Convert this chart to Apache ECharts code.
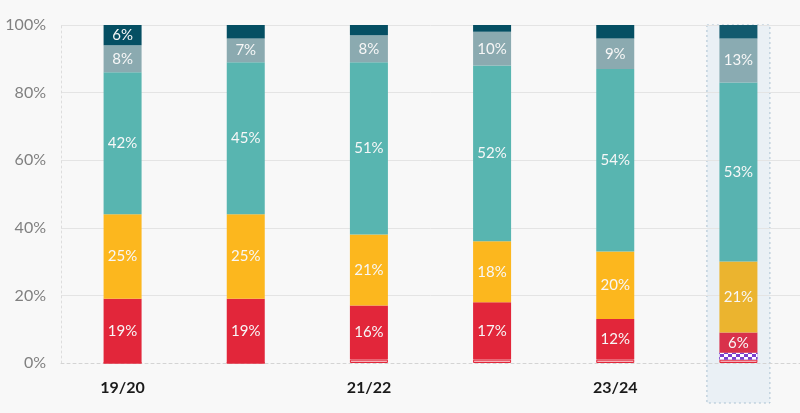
<!DOCTYPE html>
<html>
<head>
<meta charset="utf-8">
<script src="https://cdn.jsdelivr.net/npm/echarts@6/dist/echarts.min.js"></script>
<style>
html,body{margin:0;padding:0;background:#f8f8f8;}
#c{width:800px;height:413px;}
</style>
</head>
<body>
<div id="c"></div>
<script>
var categories = ['19/20', '20/21', '21/22', '22/23', '23/24', '24/25'];
var pinkVals   = [0, 0, 1, 1, 1, 1];
var purpleVals = [0, 0, 0, 0, 0, 2];
var redVals    = [19, 19, 16, 17, 12, 6];
var yellowVals = [25, 25, 21, 18, 20, 21];
var tealVals   = [42, 45, 51, 52, 54, 53];
var grayVals   = [8, 7, 8, 10, 9, 13];
var navyVals   = [6, 4, 3, 2, 4, 4];
var yTicks = ['0%', '20%', '40%', '60%', '80%', '100%'];

var colors = {
  pink: '#f6b0b8', red: '#e2263a', yellow: '#fcb71e', teal: '#58b5b0', gray: '#8baab0', navy: '#054f63'
};
var lastColors = {
  pink: '#f3aab4', red: '#d9314b', yellow: '#ebb42f', teal: '#58b3b0', gray: '#8aabb2', navy: '#125a6e'
};

function mk(name, vals, key, minLabel) {
  return {
    name: name,
    type: 'bar',
    stack: 'total',
    barWidth: 38,
    data: vals.map(function (v, i) {
      var item = { value: v };
      if (i === vals.length - 1) item.itemStyle = { color: lastColors[key] };
      return item;
    }),
    itemStyle: {
      color: colors[key],
      borderColor: key === 'pink' ? '#e2263a' : undefined,
      borderWidth: key === 'pink' ? 1 : 0
    },
    label: {
      show: minLabel !== null,
      position: 'inside',
      color: '#f7f7f7',
      fontFamily: 'Lato',
      fontSize: 15,
      formatter: function (p) {
        return (minLabel !== null && p.value >= minLabel) ? p.value + '%' : '';
      }
    },
    emphasis: { disabled: true }
  };
}

var chart = echarts.init(document.getElementById('c'), null, { renderer: 'canvas' });

var purpleSeries = mk('purple', purpleVals, 'pink', null);
purpleSeries.itemStyle = {
  color: '#7b3fcf',
  decal: {
    symbol: 'rect',
    symbolSize: 1,
    color: '#ffffff',
    dashArrayX: [[4, 4], [0, 4, 4, 0]],
    dashArrayY: [2.5, 0],
    rotation: 0,
    backgroundColor: '#7b3fcf'
  }
};
purpleSeries.data = purpleVals.map(function (v) { return { value: v }; });

chart.setOption({
  backgroundColor: '#f8f8f8',
  animation: false,
  grid: { left: 61, top: 25, bottom: 50, width: 749, containLabel: false },
  xAxis: {
    type: 'category',
    data: categories,
    axisLine: { show: true, lineStyle: { color: '#d4d4d4', type: [3, 3], width: 1 } },
    axisTick: { show: false },
    axisLabel: {
      interval: 1,
      color: '#1a1a1a',
      fontWeight: 'bold',
      fontFamily: 'Lato',
      fontSize: 16,
      margin: 17
    }
  },
  yAxis: {
    type: 'value',
    min: 0,
    max: 100,
    interval: 20,
    axisLine: { show: true, lineStyle: { color: '#dddddd', type: [2, 3] } },
    axisTick: { show: false },
    splitLine: {
      lineStyle: { color: '#e4e4e4', width: 1 },
      showMinLine: false
    },
    axisLabel: {
      color: '#808080',
      fontFamily: 'Lato',
      fontSize: 16,
      margin: 15,
      formatter: function (v) { return yTicks[v / 20]; }
    }
  },
  series: [
    mk('pink', pinkVals, 'pink', null),
    purpleSeries,
    mk('red', redVals, 'red', 5),
    mk('yellow', yellowVals, 'yellow', 5),
    mk('teal', tealVals, 'teal', 5),
    mk('gray', grayVals, 'gray', 5),
    mk('navy', navyVals, 'navy', 5)
  ]
});

// highlight band behind last category
var lastIdx = categories.length - 1;
var topPt = chart.convertToPixel({ gridIndex: 0 }, [lastIdx, 100]);
var botPt = chart.convertToPixel({ gridIndex: 0 }, [lastIdx, 0]);
var bandW = 63;
chart.setOption({
  graphic: [{
    type: 'rect',
    z: -10,
    silent: true,
    shape: { x: topPt[0] - bandW / 2, y: topPt[1], width: bandW, height: (botPt[1] - topPt[1]) + 40 },
    style: { fill: '#eaf0f5', stroke: '#a9c1d2', lineWidth: 1, lineDash: [2, 3] }
  }]
});
</script>
</body>
</html>
